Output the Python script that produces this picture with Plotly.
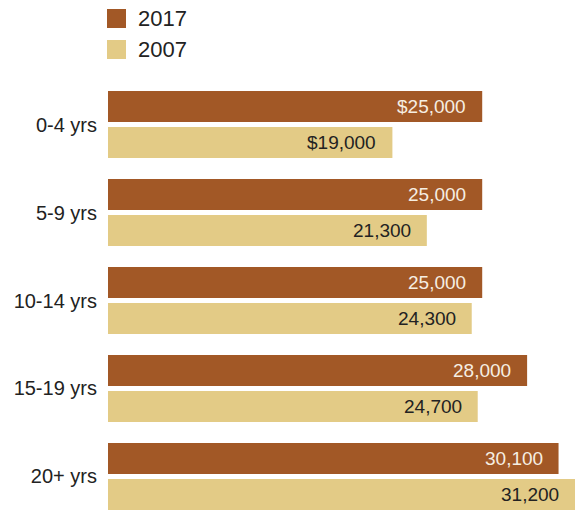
import plotly.graph_objects as go

# Median values by years of experience
categories = ["0-4 yrs", "5-9 yrs", "10-14 yrs", "15-19 yrs", "20+ yrs"]
values_2017 = [25000, 25000, 25000, 28000, 30100]
values_2007 = [19000, 21300, 24300, 24700, 31200]
labels_2017 = ["$25,000", "25,000", "25,000", "28,000", "30,100"]
labels_2007 = ["$19,000", "21,300", "24,300", "24,700", "31,200"]
series_names = ["2017", "2007"]

DARK = "#a25826"
LIGHT = "#e3cb86"
FONT = "Liberation Sans, Arial, sans-serif"

fig = go.Figure()
fig.add_trace(go.Bar(
    y=categories, x=values_2017, orientation="h", name=series_names[0],
    marker=dict(color=DARK, line=dict(width=0)), showlegend=False,
))
fig.add_trace(go.Bar(
    y=categories, x=values_2007, orientation="h", name=series_names[1],
    marker=dict(color=LIGHT, line=dict(width=0)), showlegend=False,
))

# value labels inside the bar ends
annotations = []
off = 0.2045
for i in range(len(categories)):
    annotations.append(dict(
        x=values_2017[i], y=i - off, xref="x", yref="y", text=labels_2017[i],
        showarrow=False, xanchor="right", yanchor="middle", xshift=-14,
        font=dict(family=FONT, size=19, color="#f6eee2"),
    ))
    annotations.append(dict(
        x=values_2007[i], y=i + off, xref="x", yref="y", text=labels_2007[i],
        showarrow=False, xanchor="right", yanchor="middle", xshift=-14,
        font=dict(family=FONT, size=19, color="#222222"),
    ))

# hand-built legend
PLOT_TOP, PLOT_H, PLOT_L, PLOT_W = 80, 430, 108, 473

def px_x(px):
    return (px - PLOT_L) / PLOT_W

def px_y(py):
    return (PLOT_TOP + PLOT_H - py) / PLOT_H

shapes = []
for name, color, top in [(series_names[0], DARK, 9), (series_names[1], LIGHT, 40)]:
    shapes.append(dict(
        type="rect", xref="paper", yref="paper",
        x0=px_x(107), x1=px_x(126), y0=px_y(top + 19), y1=px_y(top),
        fillcolor=color, line=dict(width=0),
    ))
    annotations.append(dict(
        x=px_x(136), y=px_y(top + 9.5), xref="paper", yref="paper", text=name,
        showarrow=False, xanchor="left", yanchor="middle",
        font=dict(family=FONT, size=22, color="#222222"),
    ))

fig.update_layout(
    width=581, height=510,
    margin=dict(l=PLOT_L, r=0, t=PLOT_TOP, b=0),
    paper_bgcolor="white", plot_bgcolor="white",
    barmode="group", bargap=0.182, bargroupgap=0.139,
    annotations=annotations, shapes=shapes,
    xaxis=dict(range=[0, 31600], visible=False, fixedrange=True),
    yaxis=dict(
        type="category", range=[4.381, -0.506], showgrid=False, zeroline=False,
        showline=False, ticks="", ticklabelstandoff=10,
        tickfont=dict(family=FONT, size=20, color="#222222"),
    ),
    font=dict(family=FONT),
)

fig.write_html("out.html")
